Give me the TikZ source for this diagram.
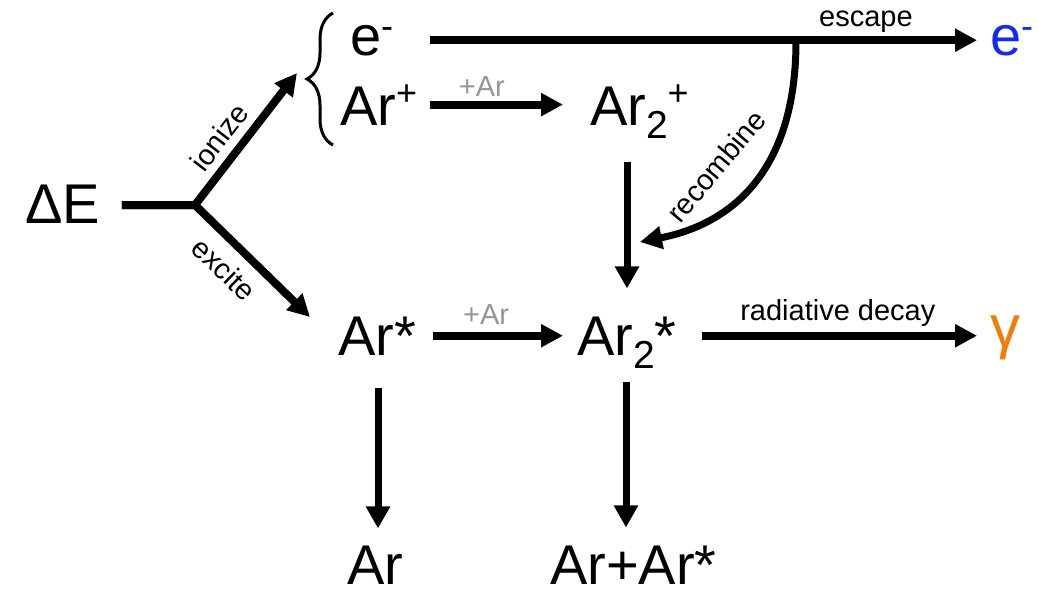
\documentclass[tikz,border=0pt]{standalone}
\usepackage{fontspec}
\setmainfont{Liberation Sans}
\usetikzlibrary{arrows.meta,decorations.pathreplacing,calc}
\definecolor{eblue}{RGB}{20,40,250}
\definecolor{gorange}{RGB}{240,125,10}
\definecolor{lgray}{RGB}{150,150,150}
\newcommand\bigtxt{\fontsize{56}{60}\selectfont}
\newcommand\smtxt{\fontsize{29}{32}\selectfont}
\newcommand\supx[2][20pt]{\raisebox{#1}{\fontsize{36}{36}\selectfont #2}}
\newcommand\subx[1]{\raisebox{-13pt}{\fontsize{39}{39}\selectfont #1}}
\begin{document}
\begin{tikzpicture}[x=1pt,y=-1pt,
  species/.style={anchor=base west, inner sep=0pt, outer sep=0pt, font=\bigtxt},
  lbl/.style={inner sep=0pt, font=\smtxt},
  harrow/.style={line width=8pt, line join=miter, -{Triangle[length=22pt,width=22pt]}},
  varrow/.style={line width=7pt, -{Triangle[length=22pt,width=23pt]}},
  bracestyle/.style={line width=3pt, decorate, decoration={brace, amplitude=26pt}},
]
\useasboundingbox (0,0) rectangle (1038,590);

% species
\node[species] (dE) at (25,223) {ΔE};
\node[species] (em) at (350,55) {e\supx[17pt]{-}};
\node[species] (arp) at (340,125) {Ar\supx{+}};
\node[species] (ar2p) at (590,125) {Ar\subx{2}\supx{+}};
\node[species] (ars) at (338,355) {Ar*};
\node[species] (ar2s) at (577,355) {Ar\subx{2}*};
\node[species] (ar) at (347,584) {Ar};
\node[species] (arar) at (550,584) {Ar+Ar*};
\node[species, text=eblue] (eout) at (990,55) {e\supx[17pt]{-}};
\node[species, text=gorange, font=\fontsize{60}{64}\selectfont] (gam) at (990,347) {γ};

% brace
\draw[bracestyle] (333,145) -- (333,13);

% branch
\coordinate (br) at (195,205);
\coordinate (itip) at (297,73);
\coordinate (etip) at (310,317);
\draw[harrow] ([xshift=22pt]br -| dE.east) -- (br) -- (itip)
  node[lbl, pos=0.41, sloped, anchor=base, yshift=12pt] {ionize};
\draw[harrow] ([xshift=22pt]br -| dE.east) -- (br) -- (etip)
  node[lbl, pos=0.41, sloped, anchor=north, yshift=-11pt] {excite};

% escape line
\draw[harrow] ([xshift=13pt]em.east -| arp.east) --
  node[lbl, pos=0.797, anchor=base, yshift=14pt] {escape}
  ([xshift=-13pt]em.east -| eout.west);

% Ar+ -> Ar2+
\draw[harrow] ([xshift=13pt]arp.east) --
  node[lbl, text=lgray, pos=0.39, anchor=base, yshift=8pt] {+Ar}
  ([xshift=-27pt]arp.east -| ar2p.west);

% Ar* -> Ar2*
\draw[harrow] ([xshift=17pt]ars.east) --
  node[lbl, text=lgray, pos=0.41, anchor=base, yshift=11pt] {+Ar}
  ([xshift=-14pt]ars.east -| ar2s.west);

% radiative decay
\draw[harrow] ([xshift=26pt]ars.east -| ar2s.east) --
  node[lbl, pos=0.493, anchor=base, yshift=15pt] {radiative decay}
  ([xshift=-13pt]ars.east -| gam.west);

% verticals
\draw[varrow] ([xshift=37pt,yshift=-37pt]ar2p.base west) --
  ([xshift=37pt,yshift=28pt]ar2p.base west |- ar2s.north);
\draw[varrow] ([xshift=40pt,yshift=-33pt]ars.base west) --
  ([xshift=40pt,yshift=17pt]ars.base west |- ar.north);
\draw[varrow] ([xshift=49pt,yshift=-27pt]ar2s.base west) --
  ([xshift=49pt,yshift=18pt]ar2s.base west |- arar.north);

% recombine
\coordinate (rc) at (796,41);
\coordinate (rtip) at (640,242);
\draw[line width=7pt, -{Triangle[length=22pt,width=22pt]}]
  (rc) .. controls (796,200) and (700,230) .. (rtip);
\node[lbl, rotate=50] (rlab) at (716,166) {recombine};
\end{tikzpicture}
\end{document}
